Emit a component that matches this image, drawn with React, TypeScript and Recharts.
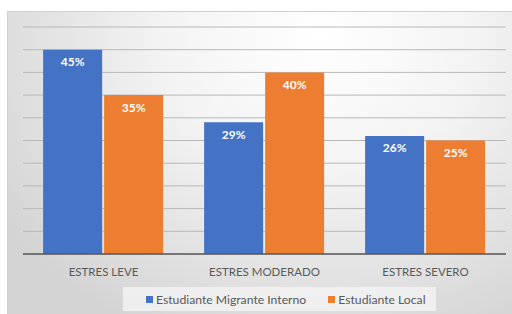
import { BarChart, Bar, XAxis, YAxis, CartesianGrid, Legend, LabelList } from "recharts";

const categories = ["ESTRES LEVE", "ESTRES MODERADO", "ESTRES SEVERO"];
const migrante = [45, 29, 26];
const local = [35, 40, 25];
const yTicks = [0, 5, 10, 15, 20, 25, 30, 35, 40, 45, 50];

const SERIES = [
  { key: "migrante", name: "Estudiante Migrante Interno", color: "#4472C4" },
  { key: "local", name: "Estudiante Local", color: "#ED7D31" },
];

const data = categories.map((c, i) => ({ name: c, migrante: migrante[i], local: local[i] }));

const FONT = "Lato, 'Open Sans', sans-serif";

function LegendBox() {
  return (
    <div
      style={{
        marginLeft: 100,
        width: 313,
        height: 24,
        background: "rgba(242,242,242,0.85)",
        display: "flex",
        alignItems: "center",
        justifyContent: "flex-start",
        gap: 22,
        paddingLeft: 23,
        boxSizing: "border-box",
        fontFamily: FONT,
        fontSize: 12.2,
        color: "#595959",
      }}
    >
      {SERIES.map((s) => (
        <span key={s.key} style={{ display: "flex", alignItems: "center" }}>
          <span style={{ width: 7, height: 7, background: s.color, marginRight: 3, display: "inline-block" }} />
          {s.name}
        </span>
      ))}
    </div>
  );
}

export default function App() {
  return (
    <div
      style={{
        position: "absolute",
        left: 7,
        top: 11,
        width: 505,
        height: 303,
        boxSizing: "border-box",
        borderTop: "1px solid #d0d0d0",
        borderLeft: "1px solid #d0d0d0",
        background: "radial-gradient(ellipse 75% 110% at 62% 8%, #ffffff 0%, #f4f4f4 40%, #d4d4d4 100%)",
      }}
    >
      <BarChart
        width={504}
        height={302}
        data={data}
        margin={{ top: 15, right: 6, left: 15, bottom: 3 }}
        barCategoryGap="12.5%"
        barGap={2}
      >
        <CartesianGrid vertical={false} stroke="#b8b8b8" strokeWidth={1} />
        <YAxis hide domain={[0, 50]} ticks={yTicks} interval={0} />
        <XAxis
          dataKey="name"
          height={33}
          tickLine={false}
          axisLine={{ stroke: "#595959", strokeWidth: 1.5 }}
          tickMargin={8}
          tick={{ fill: "#595959", fontSize: 11.5, fontFamily: FONT }}
        />
        <Legend verticalAlign="bottom" content={() => <LegendBox />} />
        {SERIES.map((s) => (
          <Bar key={s.key} dataKey={s.key} name={s.name} fill={s.color} isAnimationActive={false}>
            <LabelList
              dataKey={s.key}
              position="insideTop"
              offset={8}
              formatter={(v: number) => `${v}%`}
              style={{ fill: "#ffffff", fontWeight: 700, fontSize: 12, fontFamily: FONT }}
            />
          </Bar>
        ))}
      </BarChart>
    </div>
  );
}
